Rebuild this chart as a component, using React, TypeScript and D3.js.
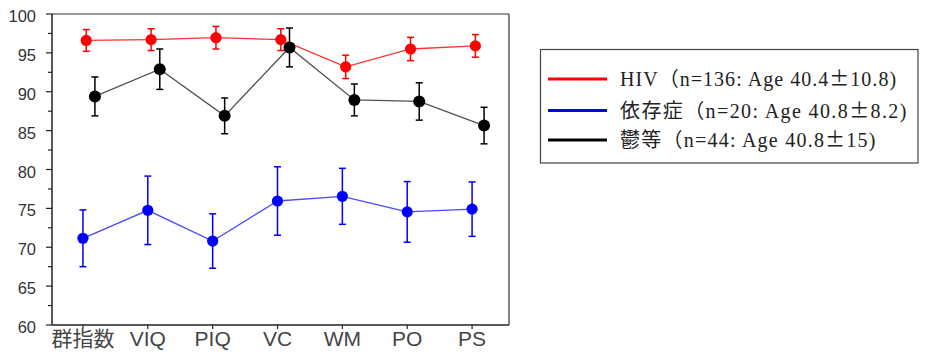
import React from "react";
import * as d3 from "d3";

const categories = ["群指数", "VIQ", "PIQ", "VC", "WM", "PO", "PS"];
const yTicks = [60, 65, 70, 75, 80, 85, 90, 95, 100];

const hivMean = [96.6, 96.7, 96.95, 96.7, 93.2, 95.5, 95.9];
const hivErr = [1.4, 1.4, 1.45, 1.4, 1.5, 1.5, 1.45];
const depMean = [71.15, 74.75, 70.8, 75.95, 76.55, 74.55, 74.9];
const depErr = [3.65, 4.4, 3.5, 4.4, 3.6, 3.9, 3.5];
const utsuMean = [89.4, 92.9, 86.9, 95.7, 88.95, 88.75, 85.65];
const utsuErr = [2.5, 2.6, 2.3, 2.5, 2.05, 2.4, 2.35];

const legendLabels = [
  { pre: "HIV（n=136: Age 40.4", post: "10.8)" },
  { pre: "依存症（n=20: Age 40.8", post: "8.2)" },
  { pre: "鬱等（n=44: Age 40.8", post: "15)" },
];

function emWidth(s: string) {
  let w = 0;
  for (const ch of s) w += ch.charCodeAt(0) > 0x2000 || ch === "±" ? 1 : 0.5;
  return w;
}

export default function App() {
  const W = 927, H = 359;
  const left = 52, right = 509, top = 14, bottom = 325;
  const x = d3.scalePoint<string>().domain(categories).range([50.5, 504.5]).padding(0.5);
  const y = d3.scaleLinear().domain([60, 100]).range([bottom, top]);
  const minor = d3.range(62.5, 100, 5);

  const series = [
    { key: "dep", mean: depMean, err: depErr, color: "#0000ff", line: "#4a4aff", dx: 0, r: 5.6 },
    { key: "hiv", mean: hivMean, err: hivErr, color: "#ff0000", line: "#ff3030", dx: 3.3, r: 5.6 },
    { key: "utsu", mean: utsuMean, err: utsuErr, color: "#000000", line: "#505050", dx: 12, r: 6 },
  ];
  const legendColors = ["#ff0000", "#0000ff", "#000000"];

  const sans = "'Liberation Sans', Arial, 'Noto Sans CJK JP', sans-serif";
  const serif = "'Liberation Serif', 'Noto Sans CJK JP', serif";
  const legendFs = 20;
  const emPx = 20.6;

  return (
    <svg width={W} height={H} style={{ position: "absolute", left: 0, top: 0, background: "#fff" }}>
      <rect x={0} y={0} width={W} height={H} fill="#fff" />
      {/* plot frame */}
      <line x1={left} x2={right} y1={top} y2={top} stroke="#333" strokeWidth={1.2} />
      <line x1={right} x2={right} y1={top} y2={bottom} stroke="#333" strokeWidth={1.2} />
      <line x1={left} x2={right} y1={bottom} y2={bottom} stroke="#222" strokeWidth={1.5} />
      <line x1={left} x2={left} y1={top} y2={bottom} stroke="#222" strokeWidth={1.5} />
      {/* y ticks */}
      {yTicks.map((t) => (
        <g key={"yt" + t}>
          <line x1={left - 6} x2={left} y1={y(t)} y2={y(t)} stroke="#222" strokeWidth={1.2} />
          <text x={36} y={y(t) + 8} textAnchor="end" fontFamily={sans} fontSize={16.5} fill="#333">
            {t}
          </text>
        </g>
      ))}
      {minor.map((t) => (
        <line key={"mt" + t} x1={left - 4} x2={left} y1={y(t)} y2={y(t)} stroke="#222" strokeWidth={1.2} />
      ))}
      {/* x ticks */}
      {categories.map((c) => (
        <g key={"xt" + c}>
          <line x1={x(c)!} x2={x(c)!} y1={bottom} y2={bottom + 4} stroke="#222" strokeWidth={1.2} />
          <text x={x(c)!} y={346} textAnchor="middle" fontFamily={sans} fontSize={21} fill="#444">
            {c}
          </text>
        </g>
      ))}
      {/* series */}
      {series.map((s) => {
        const pts = categories.map((c, i) => [x(c)! + s.dx, y(s.mean[i])] as [number, number]);
        const path = d3.line()(pts) || "";
        return (
          <g key={s.key}>
            <path d={path} fill="none" stroke={s.line} strokeWidth={1.3} />
            {categories.map((c, i) => {
              const cx = x(c)! + s.dx;
              const y1 = y(s.mean[i] + s.err[i]);
              const y2 = y(s.mean[i] - s.err[i]);
              return (
                <g key={c}>
                  <line x1={cx} x2={cx} y1={y1} y2={y2} stroke={s.color} strokeWidth={1.5} />
                  <line x1={cx - 3.5} x2={cx + 3.5} y1={y1} y2={y1} stroke={s.color} strokeWidth={1.5} />
                  <line x1={cx - 3.5} x2={cx + 3.5} y1={y2} y2={y2} stroke={s.color} strokeWidth={1.5} />
                  <circle cx={cx} cy={y(s.mean[i])} r={s.r} fill={s.color} />
                </g>
              );
            })}
          </g>
        );
      })}
      {/* legend */}
      <rect x={540.5} y={49.5} width={377.5} height={113.5} fill="#fff" stroke="#444" strokeWidth={1.2} />
      {legendLabels.map((l, i) => {
        const ly = [79, 110.5, 140][i];
        const full = l.pre + "±" + l.post;
        return (
          <g key={"lg" + i}>
            <line x1={548} x2={607} y1={ly} y2={ly} stroke={legendColors[i]} strokeWidth={3} />
            <text
              x={620}
              y={ly + 7}
              fontFamily={serif}
              fontSize={legendFs}
              fill="#222"
              textLength={emWidth(full) * emPx - 2}
              lengthAdjust="spacing"
            >
              {l.pre}
              <tspan fontFamily="'Noto Sans CJK JP', sans-serif">±</tspan>
              {l.post}
            </text>
          </g>
        );
      })}
    </svg>
  );
}
